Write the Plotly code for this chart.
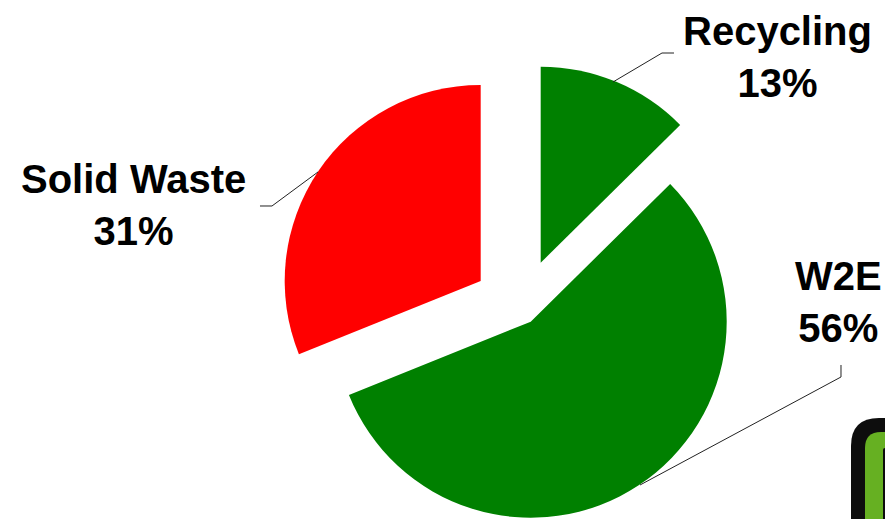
import plotly.graph_objects as go

# ---- data ----
categories = ["Recycling", "W2E", "Solid Waste"]
shares = [12.6, 56.3, 31.1]
slice_colors = ["#008000", "#008000", "#FF0000"]

# ---- layout helpers (window pixel -> paper; page body adds an 8px offset) ----
W, H = 893, 519
OFF = 8


def px(x):
    return (x - OFF) / W


def py(y):
    return 1 - (y - OFF) / H


def path(points, close=False):
    s = "M " + " L ".join(f"{px(x):.5f},{py(y):.5f}" for x, y in points)
    return s + (" Z" if close else "")


# exploded slice apex positions (pixels) and radius
apex = {"Recycling": (540.7, 262.7), "W2E": (530.7, 321.7), "Solid Waste": (480.7, 281.0)}
R = 196

fig = go.Figure()
for i, cat in enumerate(categories):
    cx, cy = apex[cat]
    cols = [slice_colors[j] if j == i else "rgba(0,0,0,0)" for j in range(len(categories))]
    fig.add_trace(go.Pie(
        labels=categories, values=shares, sort=False, direction="clockwise", rotation=0,
        marker=dict(colors=cols, line=dict(width=0)),
        textinfo="none", hoverinfo="skip", showlegend=False,
        domain=dict(x=[px(cx - 300), px(cx + 300)], y=[py(cy + R), py(cy - R)]),
    ))

total = sum(shares)
label_pos = {"Recycling": (777, 57), "W2E": (838, 302), "Solid Waste": (134, 205)}
annotations = []
for cat, v in zip(categories, shares):
    pct = round(v / total * 100)
    x, y = label_pos[cat]
    annotations.append(dict(
        x=px(x), y=py(y), xref="paper", yref="paper", showarrow=False,
        xanchor="center", yanchor="middle", align="center",
        text=f"<b>{cat}</b><br><b>{pct}%</b>",
        font=dict(family="Liberation Sans, Arial, sans-serif", size=40, color="#000000"),
    ))

leaders = {
    "Recycling": [(613, 82), (662, 53), (674, 53)],
    "Solid Waste": [(260, 206), (272, 206), (318, 172)],
    "W2E": [(841, 365), (841, 377), (640, 485)],
}
shapes = []
for cat, pts in leaders.items():
    shapes.append(dict(type="path", xref="paper", yref="paper", path=path(pts),
                       line=dict(color="#222222", width=1)))


def rounded_corner_box(x0, y0, r, x1=920, y1=560):
    pts = f"M {px(x0):.5f},{py(y1):.5f} L {px(x0):.5f},{py(y0 + r):.5f} "
    pts += f"Q {px(x0):.5f},{py(y0):.5f} {px(x0 + r):.5f},{py(y0):.5f} "
    pts += f"L {px(x1):.5f},{py(y0):.5f} L {px(x1):.5f},{py(y1):.5f} Z"
    return pts


shapes.append(dict(type="path", xref="paper", yref="paper", path=rounded_corner_box(851, 418, 28),
                   fillcolor="#0d0d0d", line=dict(width=0)))
shapes.append(dict(type="path", xref="paper", yref="paper", path=rounded_corner_box(865, 432, 16),
                   fillcolor="#66b022", line=dict(width=0)))
shapes.append(dict(type="path", xref="paper", yref="paper", path=rounded_corner_box(883, 448, 2),
                   fillcolor="#0d0d0d", line=dict(width=0)))

fig.update_layout(
    width=W, height=H,
    margin=dict(l=0, r=0, t=0, b=0),
    paper_bgcolor="white", plot_bgcolor="white",
    annotations=annotations, shapes=shapes,
    showlegend=False,
)

fig.write_html("out.html")
